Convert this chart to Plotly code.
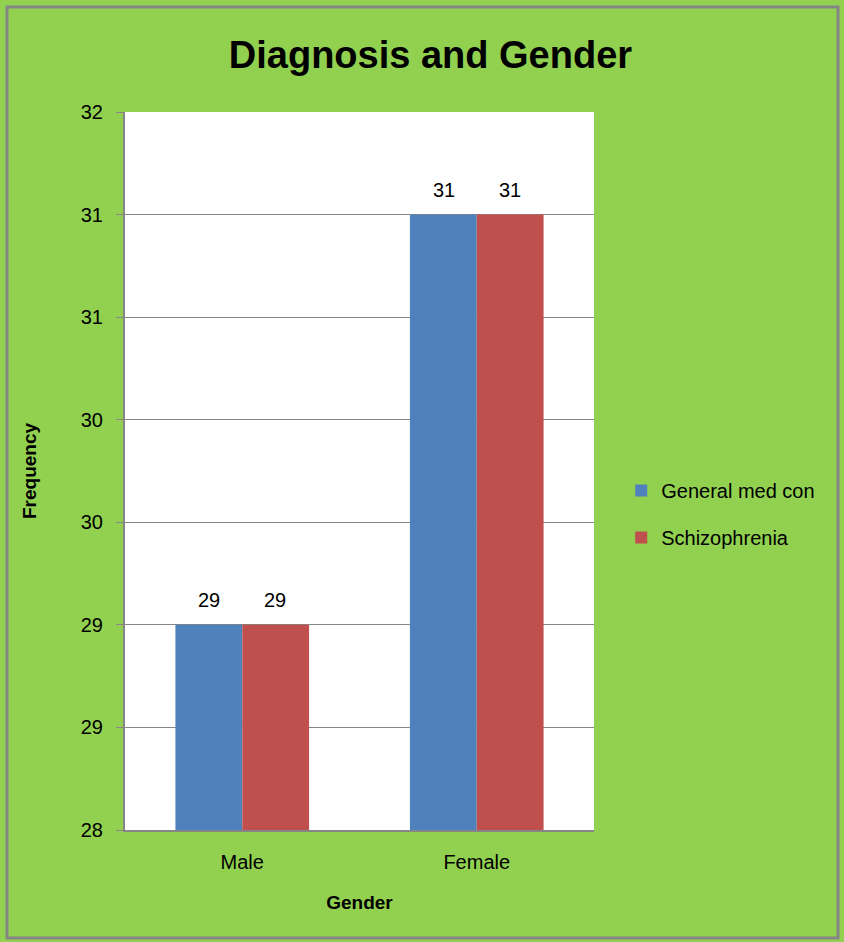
import plotly.graph_objects as go

categories = ["Male", "Female"]
series_names = ["General med con", "Schizophrenia"]
general_med = [29, 31]
schizophrenia = [29, 31]
series_colors = ["#4F81BD", "#C0504D"]
tick_values = [28, 28.5, 29, 29.5, 30, 30.5, 31, 31.5]
tick_labels = ["28", "29", "29", "30", "30", "31", "31", "32"]

FONT = "Liberation Sans"
GRAY = "#868686"

fig = go.Figure()
series = [general_med, schizophrenia]
for i, (name, vals, col) in enumerate(zip(series_names, series, series_colors)):
    fig.add_trace(go.Bar(
        x=categories, y=vals, name=name, legendgroup=name,
        marker=dict(color=col, line=dict(width=0)),
    ))
    for c, v in zip(categories, vals):
        fig.add_annotation(x=c, y=v, xref="x", yref="y", text=str(v), showarrow=False,
                           xshift=(-33 if i == 0 else 33), yshift=12, yanchor="bottom",
                           font=dict(family=FONT, size=20, color="#000000"))

fig.update_layout(
    width=844, height=942,
    margin=dict(l=125, r=250, t=112, b=112),
    paper_bgcolor="#92D050", plot_bgcolor="#FFFFFF",
    barmode="group", bargap=0.43, bargroupgap=0,
    title=dict(text="<b>Diagnosis and Gender</b>", x=0.51, xref="container", xanchor="center",
               y=1 - 55 / 942, yref="container", yanchor="middle",
               font=dict(family=FONT, size=38, color="#000000")),
    font=dict(family=FONT, size=20, color="#000000"),
    showlegend=True,
    legend=dict(x=1.058, xanchor="left", y=0.44, yanchor="middle",
                bgcolor="rgba(0,0,0,0)", font=dict(family=FONT, size=20, color="#000000"),
                tracegroupgap=18, itemsizing="constant"),
    xaxis=dict(title=dict(text="<b>Gender</b>", font=dict(family=FONT, size=19), standoff=24),
               showgrid=False, showline=True, linecolor=GRAY, linewidth=2,
               ticks="", ticklabelstandoff=13, tickfont=dict(family=FONT, size=20)),
    yaxis=dict(title=dict(text="<b>Frequency</b>", font=dict(family=FONT, size=19), standoff=39),
               range=[28, 31.5], tickvals=tick_values, ticktext=tick_labels,
               showgrid=True, gridcolor=GRAY, gridwidth=1,
               showline=True, linecolor=GRAY, linewidth=2,
               ticks="outside", ticklen=7, tickcolor=GRAY, ticklabelstandoff=9,
               tickfont=dict(family=FONT, size=20),
               zeroline=False),
    shapes=[dict(type="rect", xref="paper", yref="paper",
                 x0=(7 - 125) / 469, x1=(838 - 125) / 469,
                 y0=(830 - 938) / 718, y1=(830 - 7) / 718,
                 line=dict(color=GRAY, width=3), fillcolor="rgba(0,0,0,0)", layer="below")],
)

fig.write_html("out.html")
